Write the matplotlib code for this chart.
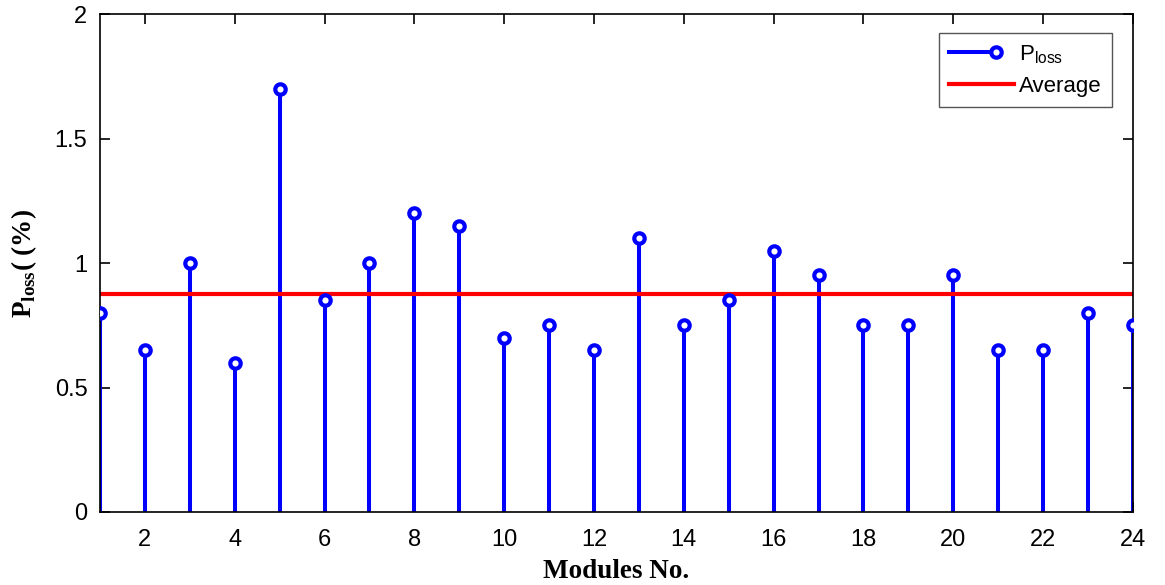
import numpy as np
import matplotlib.pyplot as plt
from matplotlib.lines import Line2D
from matplotlib.legend_handler import HandlerBase

modules = list(range(1, 25))
p_loss = [0.8, 0.65, 1.0, 0.6, 1.7, 0.85, 1.0, 1.2, 1.15, 0.7, 0.75, 0.65,
          1.1, 0.75, 0.85, 1.05, 0.95, 0.75, 0.75, 0.95, 0.65, 0.65, 0.8, 0.75]
x_ticks = list(range(2, 25, 2))
y_ticks = [0, 0.5, 1, 1.5, 2]

average = np.mean(p_loss)

BLUE = '#0000ff'
RED = '#ff0000'
MS = 7.5
MEW = 3.0


class StemHandler(HandlerBase):
    # line with a single open circle near the right end, like MATLAB's stem legend
    def create_artists(self, legend, orig_handle, xdescent, ydescent, width, height, fontsize, trans):
        y = height / 2 - ydescent
        xend = width - xdescent - 13
        line = Line2D([-xdescent, xend], [y, y], color=BLUE, linewidth=2.9)
        mk = Line2D([xend], [y], marker='o', markersize=MS, markerfacecolor='white',
                    markeredgecolor=BLUE, markeredgewidth=MEW, linestyle='none')
        line.set_transform(trans)
        mk.set_transform(trans)
        return [line, mk]


plt.rcParams['font.family'] = ['Liberation Sans', 'DejaVu Sans']

fig = plt.figure(figsize=(11.65, 5.85), dpi=100)
ax = fig.add_axes([0.0858, 0.1248, 0.8867, 0.8512])

markerline, stemlines, baseline = ax.stem(modules, p_loss, basefmt=' ')
plt.setp(stemlines, color=BLUE, linewidth=2.9)
plt.setp(markerline, marker='o', markersize=MS, markerfacecolor='white',
         markeredgecolor=BLUE, markeredgewidth=MEW, linestyle='none')
markerline.set_zorder(3)

avg_line, = ax.plot([modules[0], modules[-1]], [average, average], color=RED, linewidth=3)
avg_line.set_zorder(2)

stem_proxy = Line2D([], [], color=BLUE)
leg = ax.legend([stem_proxy, avg_line], ['P$_{\\mathregular{loss}}$', 'Average'],
                handler_map={stem_proxy: StemHandler()},
                loc='upper right', bbox_to_anchor=(0.9795, 0.962), fontsize=16,
                fancybox=False, edgecolor='#555555', framealpha=1,
                handlelength=2.9, borderpad=0.45, labelspacing=0.45, handletextpad=0.25,
                borderaxespad=0)
leg.get_frame().set_linewidth(1.0)

ax.set_xlim(1, 24)
ax.set_ylim(0, 2)
ax.set_xticks(x_ticks)
ax.set_yticks(y_ticks)
ax.set_yticklabels(['0', '0.5', '1', '1.5', '2'])
ax.tick_params(direction='in', length=7, width=1.2, labelsize=17, top=True, right=True)
ax.tick_params(axis='x', pad=12)
ax.tick_params(axis='y', pad=9)
for s in ax.spines.values():
    s.set_linewidth(1.2)

ax.set_xlabel('Modules No.', fontsize=19.5, fontweight='bold', family='Liberation Serif', labelpad=6)
ax.set_ylabel('P$_{\\mathregular{loss}}$( (%)', fontsize=19.5, fontweight='bold', family='Liberation Serif',
              labelpad=11)

fig.savefig('out.png', dpi=100)
